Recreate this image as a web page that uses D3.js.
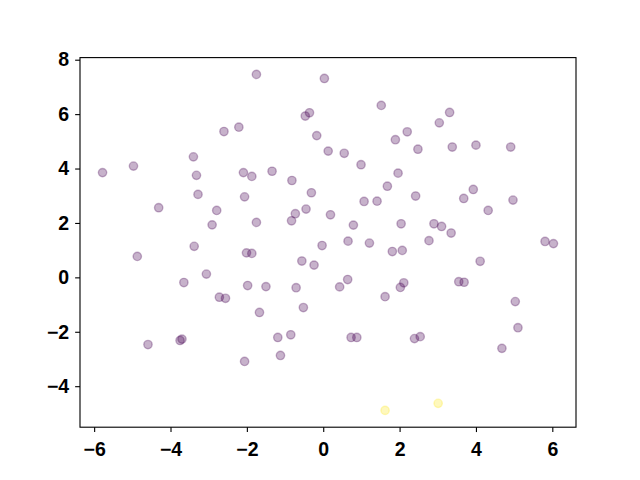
<!DOCTYPE html>
<html>
<head>
<meta charset="utf-8">
<title>scatter</title>
<style>
	body { margin: 0; background: #fff; }
</style>
</head>
<body>
<svg width="640" height="480"></svg>
<script src="https://d3js.org/d3.v7.min.js"></script>
<script>
// points
const xs = [-1.75, 0.03, -0.36, -0.47, -2.60, -2.21, -0.17, 0.13, -3.40, -5.78,
	-4.97, -3.32, -2.09, -1.87, -1.34, -0.82, -3.28, -2.06, -0.31, -4.31,
	-2.79, -2.91, -1.75, -0.83, -0.73, -0.45, 0.19, 1.52, 3.31, 3.04,
	2.20, 1.89, 0.55, 2.48, 3.38, 4.00, 4.91, 0.99, 1.96, 1.68,
	1.07, 1.41, 2.42, 3.68, 3.93, 4.97, 4.32, 0.79, 2.04, 2.90,
	3.10, 3.35, -4.87, -3.38, -2.01, -1.87, -0.03, -0.56, -0.24, -3.06,
	-3.65, -1.98, -1.50, -0.71, -2.72, -2.56, -1.67, -0.52, -4.59, -3.75,
	-3.70, -1.19, -0.85, -1.12, -2.06, 0.65, 1.21, 1.81, 2.07, 2.77,
	5.81, 6.03, 4.11, 0.64, 0.43, 2.11, 2.02, 1.62, 3.55, 3.69,
	5.03, 5.10, 4.68, 0.73, 0.88, 2.39, 2.54, 1.62, 3.01];
const ys = [7.46, 7.31, 6.05, 5.93, 5.36, 5.52, 5.21, 4.64, 4.43, 3.85,
	4.09, 3.75, 3.85, 3.71, 3.90, 3.56, 3.05, 2.96, 3.11, 2.56,
	2.46, 1.93, 2.02, 2.08, 2.34, 2.51, 2.30, 6.32, 6.06, 5.68,
	5.35, 5.06, 4.56, 4.71, 4.79, 4.86, 4.79, 4.14, 3.83, 3.35,
	2.79, 2.80, 2.99, 2.90, 3.23, 2.84, 2.46, 1.92, 1.97, 1.97,
	1.87, 1.63, 0.77, 1.14, 0.90, 0.88, 1.17, 0.60, 0.45, 0.12,
	-0.19, -0.30, -0.34, -0.38, -0.73, -0.77, -1.29, -1.11, -2.47, -2.32,
	-2.27, -2.21, -2.11, -2.87, -3.09, 1.33, 1.26, 0.95, 0.99, 1.35,
	1.32, 1.24, 0.59, -0.08, -0.35, -0.20, -0.37, -0.71, -0.16, -0.18,
	-0.89, -1.85, -2.61, -2.21, -2.21, -2.25, -2.18, -4.89, -4.63];
// class of each point: the last two are the second class
const labels = xs.map((d, i) => i >= 97 ? 1 : 0);
const xTicks = [-6, -4, -2, 0, 2, 4, 6];
const yTicks = [-4, -2, 0, 2, 4, 6, 8];

const pts = xs.map((x, i) => ({x: x, y: ys[i], c: labels[i]}));

const plotL = 80, plotR = 576, plotT = 57.6, plotB = 427.2;
const svg = d3.select('svg');

// 5% margins like matplotlib autoscale
function pad(ext) {
	const r = ext[1] - ext[0];
	return [ext[0] - 0.05 * r, ext[1] + 0.05 * r];
}
const x = d3.scaleLinear().domain(pad(d3.extent(xs))).range([plotL, plotR]);
const y = d3.scaleLinear().domain(pad(d3.extent(ys))).range([plotB, plotT]);
const color = d3.scaleSequential(d3.interpolateViridis).domain([0, 1]);

const tick = 4.86;

svg.append('g').selectAll('circle')
	.data(pts)
	.enter().append('circle')
	.attr('cx', d => x(d.x))
	.attr('cy', d => y(d.y))
	.attr('r', 4.17)
	.attr('fill', d => color(d.c))
	.attr('fill-opacity', 0.3)
	.attr('stroke', d => color(d.c))
	.attr('stroke-opacity', 0.3)
	.attr('stroke-width', 1.39);

svg.append('rect')
	.attr('x', plotL).attr('y', plotT)
	.attr('width', plotR - plotL).attr('height', plotB - plotT)
	.attr('fill', 'none').attr('stroke', '#000').attr('stroke-width', 1.11);

const xAxis = svg.append('g')
	.attr('transform', `translate(0,${plotB})`)
	.call(d3.axisBottom(x).tickValues(xTicks).tickSize(tick).tickSizeOuter(0).tickPadding(4.86));
const yAxis = svg.append('g')
	.attr('transform', `translate(${plotL},0)`)
	.call(d3.axisLeft(y).tickValues(yTicks).tickSize(tick).tickSizeOuter(0).tickPadding(6));

[xAxis, yAxis].forEach(g => {
	g.select('.domain').remove();
	g.attr('font-size', 19.5).attr('font-family', '"Liberation Sans", Arial, sans-serif');
	g.selectAll('.tick line').attr('stroke', '#000').attr('stroke-width', 1.11);
	g.selectAll('.tick text')
		.attr('font-weight', 'bold')
		.attr('fill', '#000');
});
// baseline of the x labels sits lower than d3's default
xAxis.selectAll('.tick text').attr('y', 28.8).attr('dy', null);
</script>
</body>
</html>
